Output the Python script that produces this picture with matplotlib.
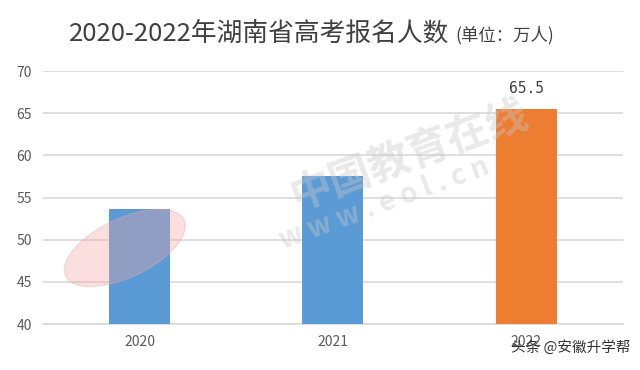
import matplotlib.pyplot as plt
from matplotlib.patches import Ellipse

plt.rcParams['font.family'] = ['Noto Sans CJK SC', 'DejaVu Sans']

# data
years = ['2020', '2021', '2022']
values = [53.6, 57.5, 65.5]
colors = ['#5B9BD5', '#5B9BD5', '#ED7D31']
yticks = [40, 45, 50, 55, 60, 65, 70]

fig = plt.figure(figsize=(6.4, 3.7), dpi=100, facecolor='white')
ax = fig.add_axes([0.067, 0.124, 0.906, 0.684])

ax.bar(years, values, width=0.315, color=colors, zorder=3)
ax.set_ylim(40, 70)
ax.set_xlim(-0.5, 2.5)
ax.set_yticks(yticks)
ax.grid(axis='y', color='#D9D9D9', linewidth=1.2, zorder=0)
ax.tick_params(axis='both', length=0, labelsize=10, colors='#595959', pad=8)
for s in ['top', 'right', 'left']:
    ax.spines[s].set_visible(False)
ax.spines['bottom'].set_color('#D9D9D9')
ax.spines['bottom'].set_linewidth(1.2)

# label on the last bar
ax.text(2, values[2] + 1.5, '65.5', ha='center', va='bottom', fontsize=10.5,
        color='#404040', family='DejaVu Sans Mono')

# watermark (faint)
fig.patches.append(Ellipse((0.195, 0.33), 0.25, 0.13, angle=50, transform=fig.transFigure,
                           color='#F4A6A6', alpha=0.35, zorder=1))
fig.text(0.64, 0.58, '中国教育在线', fontsize=30, fontweight='bold', color='#C8C8C8',
         alpha=0.4, rotation=20, ha='center', va='center')
fig.text(0.6, 0.45, 'w w w . e o l . c n', fontsize=20, fontweight='bold', color='#C8C8C8',
         alpha=0.4, rotation=20, ha='center', va='center')

# title
fig.text(0.108, 0.91, '2020-2022年湖南省高考报名人数', fontsize=18.5, color='#404040',
         ha='left', va='center')
fig.text(0.711, 0.905, '(单位：万人)', fontsize=12.5, color='#404040', ha='left', va='center')

fig.text(0.985, 0.06, '头条 @安徽升学帮', fontsize=10.5, color='#333333', ha='right', va='center')

plt.savefig('out.png', dpi=100, facecolor='white')
plt.close()
